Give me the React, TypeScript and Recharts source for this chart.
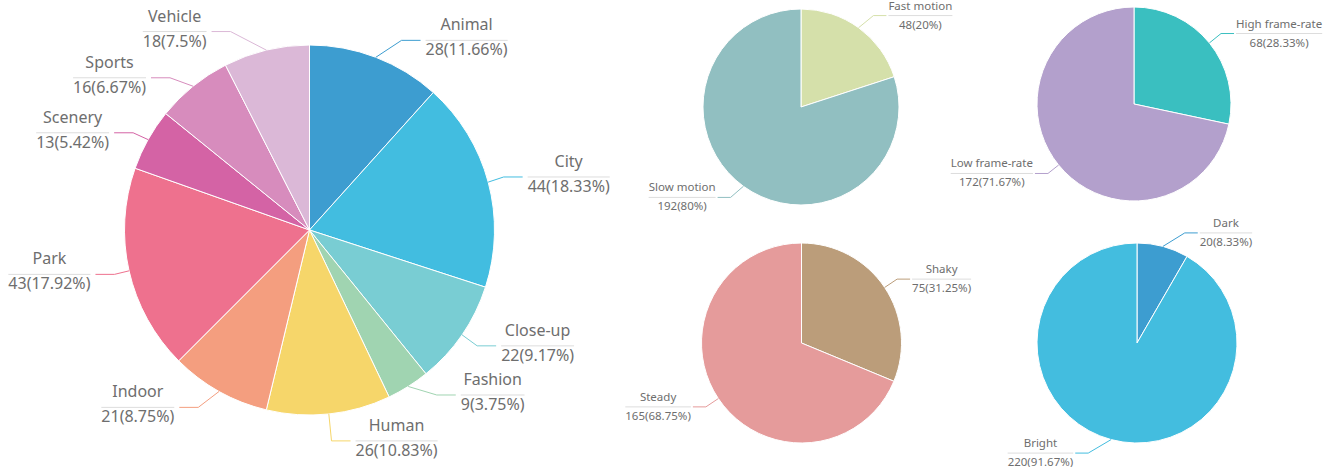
import React from 'react';
import { PieChart, Pie, Cell } from 'recharts';

const sceneNames = ['Animal', 'City', 'Close-up', 'Fashion', 'Human', 'Indoor', 'Park', 'Scenery', 'Sports', 'Vehicle'];
const sceneCounts = [28, 44, 22, 9, 26, 21, 43, 13, 16, 18];
const sceneColors = ['#3d9dd0', '#42bde0', '#79cdd3', '#a0d4b1', '#f6d66a', '#f49e7f', '#ee718e', '#d463a5', '#d78cbd', '#dbb8d7'];

const motionNames = ['Fast motion', 'Slow motion'];
const motionCounts = [48, 192];
const motionColors = ['#d5e0aa', '#91bfc1'];

const frameNames = ['High frame-rate', 'Low frame-rate'];
const frameCounts = [68, 172];
const frameColors = ['#3abfc0', '#b3a0cc'];

const shakeNames = ['Shaky', 'Steady'];
const shakeCounts = [75, 165];
const shakeColors = ['#bb9d7a', '#e59b9b'];

const lightNames = ['Dark', 'Bright'];
const lightCounts = [20, 220];
const lightColors = ['#3d9dd0', '#43bddf'];

// extra shift of the label elbow, where labels were pushed apart in the original
const labelNudge: Record<string, [number, number]> = {
  Animal: [20, -2],
  City: [0, -1],
  'Close-up': [2, 2],
  Fashion: [20, -5],
  Human: [1, 11],
  Vehicle: [-32, -3],
  Sports: [-13, 4],
  Scenery: [-1, 1],
  Park: [1, 0],
  Indoor: [-13, 2],
  'Fast motion': [6, 0],
  'Slow motion': [-4, -1],
  'Low frame-rate': [1, -1],
  Dark: [18, 1],
  Bright: [-19, -1],
};

const RAD = Math.PI / 180;
const FONT = '"Noto Sans", "DejaVu Sans", sans-serif';

// largest remainder, so the shown percentages add up to 100
function percents(values: number[], precision = 2): number[] {
  const sum = values.reduce((a, v) => a + v, 0);
  const digits = Math.pow(10, precision);
  const votes = values.map((v) => (v / sum) * digits * 100);
  const target = digits * 100;
  const seats = votes.map((v) => Math.floor(v));
  let current = seats.reduce((a, v) => a + v, 0);
  const rem = votes.map((v, i) => v - seats[i]);
  while (current < target) {
    let max = Number.NEGATIVE_INFINITY;
    let maxId = 0;
    for (let i = 0; i < rem.length; i++) {
      if (rem[i] > max) {
        max = rem[i];
        maxId = i;
      }
    }
    seats[maxId]++;
    rem[maxId] = 0;
    current++;
  }
  return seats.map((s) => s / digits);
}

let ctx: CanvasRenderingContext2D | null = null;
function textWidth(s: string, size: number) {
  if (!ctx) ctx = document.createElement('canvas').getContext('2d');
  if (!ctx) return s.length * size * 0.55;
  ctx.font = `${size}px ${FONT}`;
  return ctx.measureText(s).width;
}

type LabelStyle = { len: number; len2: number; gap: number; font: number; nameDy: number; valueDy: number };

const bigLabel: LabelStyle = { len: 16, len2: 19, gap: 5, font: 16, nameDy: -10, valueDy: 15 };
const smallLabel: LabelStyle = { len: 15, len2: 13, gap: 2, font: 11.5, nameDy: -6, valueDy: 13 };

function makeLabel(names: string[], counts: number[], colors: string[], style: LabelStyle) {
  const pct = percents(counts);
  return (props: any) => {
    const { cx, cy, midAngle, outerRadius, index } = props;
    const cos = Math.cos(-midAngle * RAD);
    const sin = Math.sin(-midAngle * RAD);
    const name = names[index];
    const [nx, ny] = labelNudge[name] ?? [0, 0];
    const sx = cx + outerRadius * cos;
    const sy = cy + outerRadius * sin;
    const ex = cx + (outerRadius + style.len) * cos + nx;
    const ey = cy + (outerRadius + style.len) * sin + ny;
    const dir = cos >= 0 ? 1 : -1;
    const hx = ex + dir * style.len2;
    const valueText = `${counts[index]}(${pct[index]}%)`;
    const w = Math.max(textWidth(name, style.font), textWidth(valueText, style.font));
    const ux0 = hx + dir * style.gap;
    const ux1 = ux0 + dir * w;
    const mid = (ux0 + ux1) / 2;
    return (
      <g key={`label-${name}`}>
        <polyline points={`${sx},${sy} ${ex},${ey} ${hx},${ey}`} fill="none" stroke={colors[index]} strokeWidth={1} />
        <line x1={ux0} y1={ey} x2={ux1} y2={ey} stroke="#dddddd" strokeWidth={1} />
        <text x={mid} y={ey + style.nameDy} textAnchor="middle" fill="#6e6e6e" fontSize={style.font} fontFamily={FONT}>
          {name}
        </text>
        <text x={mid} y={ey + style.valueDy} textAnchor="middle" fill="#6e6e6e" fontSize={style.font} fontFamily={FONT}>
          {valueText}
        </text>
      </g>
    );
  };
}

const toRows = (names: string[], counts: number[]) => names.map((name, i) => ({ name, value: counts[i] }));

const pies = [
  { id: 'scene', names: sceneNames, counts: sceneCounts, colors: sceneColors, cx: 309.5, cy: 230, r: 185, style: bigLabel },
  { id: 'motion', names: motionNames, counts: motionCounts, colors: motionColors, cx: 801, cy: 107, r: 98, style: smallLabel },
  { id: 'frame', names: frameNames, counts: frameCounts, colors: frameColors, cx: 1134, cy: 104, r: 97, style: smallLabel },
  { id: 'shake', names: shakeNames, counts: shakeCounts, colors: shakeColors, cx: 801.5, cy: 343, r: 100, style: smallLabel },
  { id: 'light', names: lightNames, counts: lightCounts, colors: lightColors, cx: 1137, cy: 343, r: 100, style: smallLabel },
];

export default function App() {
  return (
    <div style={{ position: 'absolute', left: 0, top: 0, width: 1325, height: 467, background: '#fff' }}>
      <PieChart width={1325} height={467} margin={{ top: 0, right: 0, bottom: 0, left: 0 }}>
        {pies.map((p) => (
          <Pie
            key={p.id}
            data={toRows(p.names, p.counts)}
            dataKey="value"
            nameKey="name"
            cx={p.cx}
            cy={p.cy}
            outerRadius={p.r}
            startAngle={90}
            endAngle={-270}
            stroke="#ffffff"
            strokeWidth={1}
            label={makeLabel(p.names, p.counts, p.colors, p.style)}
            labelLine={false}
            isAnimationActive={false}
          >
            {p.colors.map((c, i) => (
              <Cell key={`${p.id}-${i}`} fill={c} />
            ))}
          </Pie>
        ))}
      </PieChart>
    </div>
  );
}
